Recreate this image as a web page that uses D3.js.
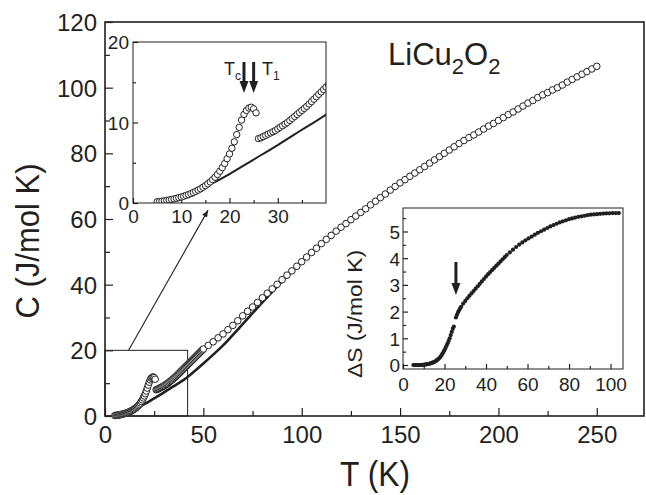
<!DOCTYPE html>
<html>
<head>
<meta charset="utf-8">
<script src="https://cdn.jsdelivr.net/npm/d3@7"></script>
<style>
  body { margin: 0; background: #fff; }
  text { font-family: "Liberation Sans", Arial, sans-serif; fill: #231f20; }
</style>
</head>
<body>
<div id="chart"></div>
<script>
// datos: C(T) medido, tramo bajo T (denso) antes del salto
const tLow = [5, 5.5, 6, 6.5, 7, 7.5, 8, 8.5, 9, 9.5, 10, 10.5, 11, 11.5, 12, 12.5, 13, 13.5, 14, 14.5,
  15, 15.5, 16, 16.5, 17, 17.5, 18, 18.5, 19, 19.5, 20, 20.5, 21, 21.5, 22, 22.5, 23, 23.5, 24, 24.5, 25, 25.5];
const cLow = [0.15, 0.18, 0.22, 0.27, 0.32, 0.38, 0.44, 0.5, 0.58, 0.66, 0.75, 0.84, 0.94, 1.05, 1.17, 1.3, 1.44, 1.6, 1.77, 1.96,
  2.16, 2.38, 2.62, 2.9, 3.2, 3.55, 3.95, 4.4, 4.9, 5.5, 6.1, 6.8, 7.6, 8.5, 9.4, 10.3, 11.0, 11.5, 11.8, 11.9, 11.7, 11.2];

// tramo denso despues del salto (26-50 K)
const tMid = [26, 26.5, 27, 27.5, 28, 28.5, 29, 29.5, 30, 30.5, 31, 31.5, 32, 32.5, 33, 33.5, 34, 34.5, 35, 35.5,
  36, 36.5, 37, 37.5, 38, 38.5, 39, 39.5, 40, 40.5, 41, 41.5, 42, 42.5, 43, 43.5, 44, 44.5, 45, 45.5,
  46, 46.5, 47, 47.5, 48, 48.5, 49, 49.5, 50];
const cMid = [8.0, 8.1, 8.25, 8.4, 8.55, 8.7, 8.85, 9.0, 9.2, 9.4, 9.6, 9.8, 10.0, 10.25, 10.5, 10.75, 11.0, 11.25, 11.5, 11.75,
  12.0, 12.3, 12.6, 12.9, 13.2, 13.5, 13.8, 14.1, 14.4, 14.7, 15.0, 15.3, 15.6, 15.9, 16.2, 16.5, 16.8, 17.1, 17.4, 17.7,
  18.0, 18.3, 18.6, 18.9, 19.2, 19.5, 19.8, 20.1, 20.4];

// tramo alto T (circulos separados)
const tHigh = [52.5, 55, 57.5, 60, 62.5, 65, 67.5, 70, 72.5, 75, 77.5, 80, 82.5, 85, 87.5, 90, 92.5, 95, 97.5, 100,
  102.5, 105, 107.5, 110, 112.5, 115, 117.5, 120, 122.5, 125, 127.5, 130, 132.5, 135, 137.5, 140, 142.5, 145, 147.5, 150,
  152.5, 155, 157.5, 160, 162.5, 165, 167.5, 170, 172.5, 175, 177.5, 180, 182.5, 185, 187.5, 190, 192.5, 195, 197.5, 200,
  202.5, 205, 207.5, 210, 212.5, 215, 217.5, 220, 222.5, 225, 227.5, 230, 232.5, 235, 237.5, 240, 242.5, 245, 247.5, 250];
const cHigh = [21.5, 22.6, 23.8, 25.0, 26.3, 27.6, 29.0, 30.5, 31.9, 33.2, 34.6, 36.0, 37.4, 38.7, 40.1, 41.5, 42.9, 44.2, 45.6, 47.0,
  48.4, 49.8, 51.1, 52.5, 53.8, 55.0, 56.3, 57.5, 58.6, 59.8, 60.9, 62.0, 63.1, 64.3, 65.4, 66.5, 67.6, 68.8, 69.9, 71.0,
  72.0, 73.0, 74.0, 75.0, 76.0, 77.0, 78.0, 79.0, 80.0, 81.0, 82.0, 83.0, 83.9, 84.8, 85.6, 86.5, 87.4, 88.3, 89.1, 90.0,
  90.9, 91.8, 92.6, 93.5, 94.4, 95.3, 96.1, 97.0, 97.8, 98.5, 99.3, 100.0, 100.8, 101.7, 102.5, 103.3, 104.1, 104.9, 105.7, 106.5];

// contribucion de red (linea continua)
const tLat = [5, 10, 15, 20, 25, 30, 35, 40, 45, 50, 55, 60, 65, 70, 75, 80, 85, 90, 95, 100, 103];
const cLat = [0.05, 0.6, 2.0, 3.6, 5.4, 7.2, 9.1, 11.0, 13.4, 16.0, 18.7, 21.5, 24.7, 28.0, 31.3, 34.6, 37.8, 41.0, 44.0, 47.0, 48.8];

// entropia magnetica dS
const tS = [5, 5.5, 6, 6.5, 7, 7.5, 8, 8.5, 9, 9.5, 10, 10.5, 11, 11.5, 12, 12.5, 13, 13.5, 14, 14.5,
  15, 15.5, 16, 16.5, 17, 17.5, 18, 18.5, 19, 19.5, 20, 20.5, 21, 21.5, 22, 22.5, 23, 23.5, 24, 24.5,
  25.5, 26, 26.5, 27, 27.5, 28, 29, 30, 31, 32, 33, 34, 35, 36, 37, 38, 39, 40, 41, 42, 43, 44, 45, 46, 47, 48, 49, 50,
  51.5, 53, 54.5, 56, 57.5, 59, 60.5, 62, 63.5, 65, 66.5, 68, 69.5, 71, 72.5, 74, 75.5, 77, 78.5, 80,
  81.5, 83, 84.5, 86, 87.5, 89, 90.5, 92, 93.5, 95, 96.5, 98, 99.5, 101, 102.5, 104];
const sVal = [0, 0, 0, 0, 0, 0, 0, 0, 0.005, 0.007, 0.01, 0.015, 0.02, 0.027, 0.035, 0.045, 0.055, 0.067, 0.08, 0.095,
  0.11, 0.13, 0.16, 0.19, 0.22, 0.26, 0.3, 0.36, 0.42, 0.49, 0.56, 0.64, 0.72, 0.81, 0.9, 1.0, 1.12, 1.24, 1.36, 1.44,
  1.78, 1.88, 1.97, 2.05, 2.12, 2.18, 2.3, 2.4, 2.5, 2.59, 2.68, 2.77, 2.86, 2.95, 3.04, 3.13, 3.22, 3.31, 3.4, 3.48, 3.56, 3.64, 3.72, 3.8, 3.88, 3.96, 4.04, 4.12,
  4.22, 4.32, 4.42, 4.51, 4.59, 4.67, 4.74, 4.81, 4.88, 4.95, 5.01, 5.07, 5.13, 5.19, 5.24, 5.29, 5.34, 5.38, 5.42, 5.46,
  5.49, 5.52, 5.55, 5.57, 5.59, 5.61, 5.63, 5.64, 5.65, 5.66, 5.67, 5.68, 5.68, 5.69, 5.69, 5.69];

const mainXTicks = [0, 50, 100, 150, 200, 250];
const mainYTicks = [0, 20, 40, 60, 80, 100, 120];
const insXTicks = [0, 10, 20, 30];
const insYTicks = [0, 10, 20];
const sXTicks = [0, 20, 40, 60, 80, 100];
const sYTicks = [0, 1, 2, 3, 4, 5];
const markTc = 23, markT1 = 25, markS = 25.5;

const width = 646, height = 495;
const ink = "#231f20";

const zip = (xs, ys) => xs.map((x, i) => ({ t: x, v: ys[i] }));
const lowPts = zip(tLow, cLow), midPts = zip(tMid, cMid), highPts = zip(tHigh, cHigh);
const latPts = zip(tLat, cLat), sPts = zip(tS, sVal);

const svg = d3.select("#chart").append("svg")
  .attr("width", width).attr("height", height);

const defs = svg.append("defs");

// ---------- grafico principal ----------
const x = d3.scaleLinear().domain([0, 274]).range([105, 644]);
const y = d3.scaleLinear().domain([0, 120]).range([416, 22]);

function frame(g, xs, ys, sw) {
  g.append("rect")
    .attr("x", xs.range()[0]).attr("y", ys.range()[1])
    .attr("width", xs.range()[1] - xs.range()[0])
    .attr("height", ys.range()[0] - ys.range()[1])
    .attr("fill", "none").attr("stroke", ink).attr("stroke-width", sw);
}

// ejes con ticks hacia dentro (estilo Origin)
function axes(g, xs, ys, xt, yt, xMinor, yMinor, fs, majLen, minLen, xLabY, yLabX, xFmt) {
  const ax = g.append("g").attr("transform", `translate(0,${ys.range()[0]})`)
    .call(d3.axisBottom(xs).tickValues(xt).tickSizeInner(-majLen).tickSizeOuter(0).tickPadding(0).tickFormat(xFmt || d3.format("d")));
  ax.select(".domain").remove();
  ax.selectAll("line").attr("stroke", ink).attr("stroke-width", 1.2);
  ax.selectAll("text").attr("y", xLabY).attr("dy", null).style("font-size", fs + "px").attr("fill", ink);
  const axm = g.append("g").attr("transform", `translate(0,${ys.range()[0]})`)
    .call(d3.axisBottom(xs).tickValues(xMinor).tickSizeInner(-minLen).tickSizeOuter(0).tickFormat(""));
  axm.select(".domain").remove();
  axm.selectAll("line").attr("stroke", ink).attr("stroke-width", 1.2);

  const ay = g.append("g").attr("transform", `translate(${xs.range()[0]},0)`)
    .call(d3.axisLeft(ys).tickValues(yt).tickSizeInner(-majLen).tickSizeOuter(0).tickPadding(0).tickFormat(d3.format("d")));
  ay.select(".domain").remove();
  ay.selectAll("line").attr("stroke", ink).attr("stroke-width", 1.2);
  ay.selectAll("text").attr("x", -yLabX).attr("dy", "0.36em").style("font-size", fs + "px").attr("fill", ink);
  const aym = g.append("g").attr("transform", `translate(${xs.range()[0]},0)`)
    .call(d3.axisLeft(ys).tickValues(yMinor).tickSizeInner(-minLen).tickSizeOuter(0).tickFormat(""));
  aym.select(".domain").remove();
  aym.selectAll("line").attr("stroke", ink).attr("stroke-width", 1.2);
  g.selectAll(".tick text").attr("font-family", "Liberation Sans, Arial, sans-serif");
}

const main = svg.append("g");
axes(main, x, y, mainXTicks, mainYTicks,
  [25, 75, 125, 175, 225, 275].filter(d => d < 274), [10, 30, 50, 70, 90, 110],
  24, 8, 5, 27, 8);
frame(main, x, y, 1.6);

// recuadro de zoom y flecha hacia el inset
main.append("rect")
  .attr("x", x(0)).attr("y", y(20))
  .attr("width", x(42) - x(0)).attr("height", y(0) - y(20))
  .attr("fill", "none").attr("stroke", ink).attr("stroke-width", 1);

defs.append("marker").attr("id", "thin").attr("viewBox", "0 0 10 10")
  .attr("refX", 10).attr("refY", 5).attr("markerWidth", 7).attr("markerHeight", 7)
  .attr("markerUnits", "userSpaceOnUse").attr("orient", "auto")
  .append("path").attr("d", "M0,1L10,5L0,9Z").attr("fill", ink);

main.append("line")
  .attr("x1", x(12)).attr("y1", y(20))
  .attr("x2", x(52.4)).attr("y2", y(62.7))
  .attr("stroke", ink).attr("stroke-width", 1.1)
  .attr("marker-end", "url(#thin)");

const lineMain = d3.line().x(d => x(d.t)).y(d => y(d.v)).curve(d3.curveMonotoneX);
main.append("path").datum(latPts)
  .attr("d", lineMain).attr("fill", "none")
  .attr("stroke", ink).attr("stroke-width", 2.6);

main.selectAll(".pt")
  .data(lowPts.concat(midPts).concat(highPts))
  .enter().append("circle")
  .attr("cx", d => x(d.t)).attr("cy", d => y(d.v)).attr("r", 3.3)
  .attr("fill", "#fff").attr("stroke", ink).attr("stroke-width", 1);

// titulos
main.append("text")
  .attr("transform", "translate(39,241) rotate(-90)")
  .attr("text-anchor", "middle")
  .attr("textLength", 155).attr("lengthAdjust", "spacingAndGlyphs")
  .style("font-size", "33px")
  .text("C (J/mol K)");

main.append("text")
  .attr("x", 375).attr("y", 486)
  .attr("text-anchor", "middle")
  .attr("textLength", 70).attr("lengthAdjust", "spacingAndGlyphs")
  .style("font-size", "35px")
  .text("T (K)");

const formula = main.append("text").attr("x", 388).attr("y", 65).style("font-size", "31px");
formula.append("tspan").text("LiCu");
formula.append("tspan").attr("dy", 9).style("font-size", "22px").text("2");
formula.append("tspan").attr("dy", -9).text("O");
formula.append("tspan").attr("dy", 9).style("font-size", "22px").text("2");

// ---------- inset 1: C a baja T ----------
const xi = d3.scaleLinear().domain([0, 40]).range([133, 326]);
const yi = d3.scaleLinear().domain([0, 20]).range([203, 42]);
const ins = svg.append("g");
ins.append("rect").attr("x", 133).attr("y", 42).attr("width", 193).attr("height", 161).attr("fill", "#fff");

defs.append("clipPath").attr("id", "clipI").append("rect")
  .attr("x", 133).attr("y", 42).attr("width", 193).attr("height", 161);

axes(ins, xi, yi, insXTicks, insYTicks, [5, 15, 25, 35], [5, 15], 19, 5, 3, 20, 4);

const insData = ins.append("g").attr("clip-path", "url(#clipI)");
const lineIns = d3.line().x(d => xi(d.t)).y(d => yi(d.v)).curve(d3.curveMonotoneX);
insData.append("path").datum(latPts)
  .attr("d", lineIns).attr("fill", "none")
  .attr("stroke", ink).attr("stroke-width", 2);
insData.selectAll(".pt")
  .data(lowPts.concat(midPts))
  .enter().append("circle")
  .attr("cx", d => xi(d.t)).attr("cy", d => yi(d.v)).attr("r", 3.2)
  .attr("fill", "#fff").attr("stroke", ink).attr("stroke-width", 1);
frame(ins, xi, yi, 1);

// flechas gruesas Tc y T1
function fatArrow(g, cx, y1, y2) {
  g.append("line").attr("x1", cx).attr("x2", cx).attr("y1", y1).attr("y2", y2 - 10)
    .attr("stroke", ink).attr("stroke-width", 3);
  g.append("path")
    .attr("d", `M${cx - 4.5},${y2 - 12}L${cx + 4.5},${y2 - 12}L${cx},${y2}Z`)
    .attr("fill", ink);
}
fatArrow(ins, xi(markTc), 62, 93);
fatArrow(ins, xi(markT1), 62, 93);

const tc = ins.append("text").attr("x", 224).attr("y", 75).style("font-size", "18px");
tc.append("tspan").text("T");
tc.append("tspan").attr("dy", 5).style("font-size", "12px").text("c");
const t1 = ins.append("text").attr("x", 262).attr("y", 75).style("font-size", "18px");
t1.append("tspan").text("T");
t1.append("tspan").attr("dy", 5).style("font-size", "12px").text("1");

// ---------- inset 2: entropia ----------
const xs2 = d3.scaleLinear().domain([0, 106]).range([403, 623]);
const ys2 = d3.scaleLinear().domain([-0.15, 5.88]).range([369, 208]);
const ins2 = svg.append("g");
ins2.append("rect").attr("x", 403).attr("y", 208).attr("width", 220).attr("height", 161).attr("fill", "#fff");

axes(ins2, xs2, ys2, sXTicks, sYTicks, [10, 30, 50, 70, 90],
  [0.5, 1.5, 2.5, 3.5, 4.5, 5.5], 19, 5, 3, 22, 3);

ins2.selectAll(".dot")
  .data(sPts)
  .enter().append("circle")
  .attr("cx", d => xs2(d.t)).attr("cy", d => ys2(d.v)).attr("r", 2.1)
  .attr("fill", ink);
frame(ins2, xs2, ys2, 1);

fatArrow(ins2, xs2(markS), 262, 295);

ins2.append("text")
  .attr("transform", "translate(362,314) rotate(-90)")
  .attr("text-anchor", "middle")
  .attr("textLength", 128).attr("lengthAdjust", "spacingAndGlyphs")
  .style("font-size", "21px")
  .text("ΔS (J/mol K)");
</script>
</body>
</html>
